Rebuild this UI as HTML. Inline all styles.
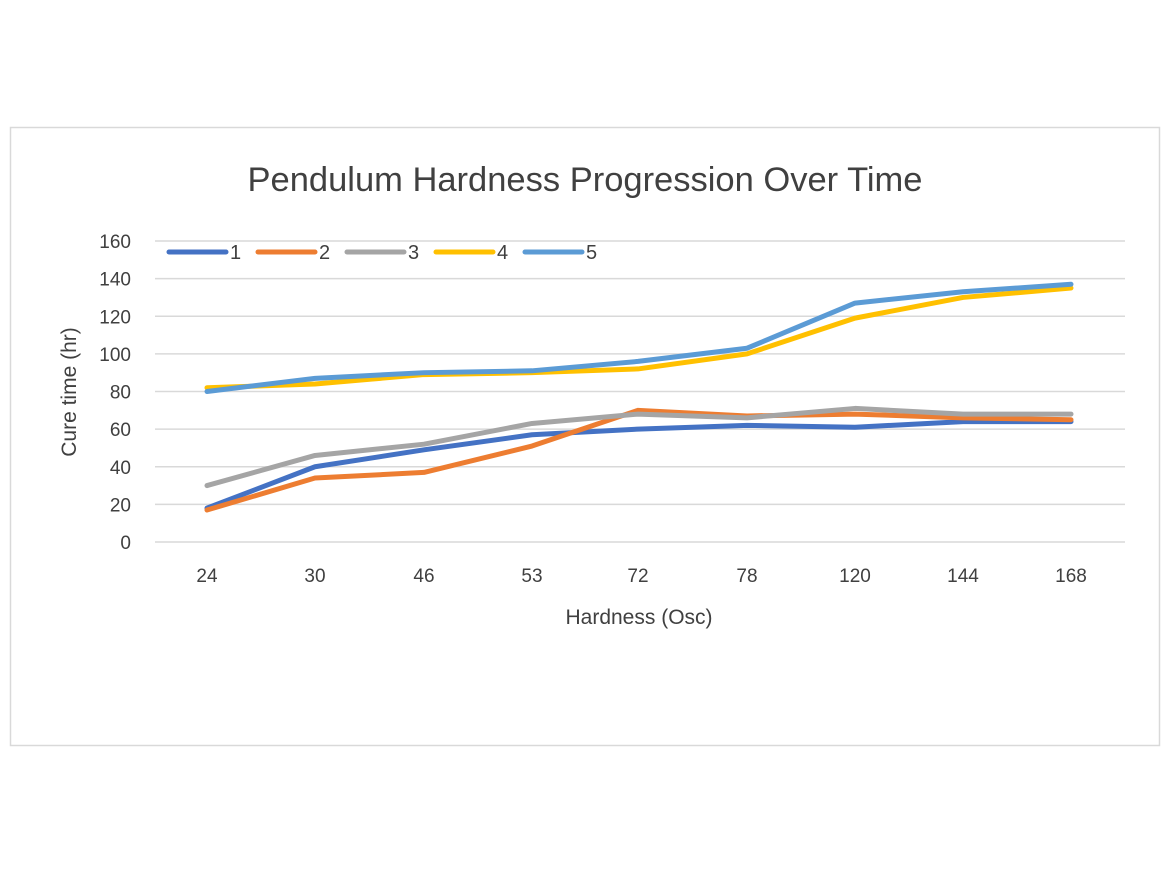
<!DOCTYPE html>
<html><head><meta charset="utf-8"><style>
body{margin:0;background:#fff;}
svg{display:block;font-family:"Liberation Sans",sans-serif;}
</style></head><body>
<svg id="s" width="1170" height="878" xmlns="http://www.w3.org/2000/svg">
<rect x="10.5" y="127.5" width="1149" height="618" fill="#fff" stroke="#d9d9d9" stroke-width="1.5"/>
<text x="585" y="191" text-anchor="middle" font-size="34.5" fill="#404040">Pendulum Hardness Progression Over Time</text>
<text transform="translate(76,392) rotate(-90)" text-anchor="middle" font-size="21" fill="#404040">Cure time (hr)</text>
<text x="639" y="624" text-anchor="middle" font-size="21" fill="#404040">Hardness (Osc)</text>
</svg>
<script>
var s=document.getElementById('s'),NS='http://www.w3.org/2000/svg';
function el(t,a,txt){var e=document.createElementNS(NS,t);for(var k in a)e.setAttribute(k,a[k]);if(txt!=null)e.textContent=txt;s.appendChild(e);return e;}
function Y(v){return 542-v*1.88125;}
for(var v=0;v<=160;v+=20){el('line',{x1:155,x2:1125,y1:Y(v),y2:Y(v),stroke:'#d9d9d9','stroke-width':1.5});el('text',{x:131,y:Y(v)+7,'text-anchor':'end','font-size':19,fill:'#404040'},v);}
var xs=[207,315,424,532,638,747,855,963,1071],lab=[24,30,46,53,72,78,120,144,168];
xs.forEach(function(x,i){el('text',{x:x,y:582,'text-anchor':'middle','font-size':19,fill:'#404040'},lab[i]);});
var data=[
['#4472c4',[18,40,49,57,60,62,61,64,64]],
['#ed7d31',[17,34,37,51,70,67,68,66,65]],
['#a5a5a5',[30,46,52,63,68,66,71,68,68]],
['#ffc000',[82,84,89,90,92,100,119,130,135]],
['#5b9bd5',[80,87,90,91,96,103,127,133,137]]];
var lx=[169,258,347,436,525];
data.forEach(function(d,i){
 el('polyline',{points:d[1].map(function(v,j){return xs[j]+','+Y(v);}).join(' '),fill:'none',stroke:d[0],'stroke-width':5,'stroke-linejoin':'round','stroke-linecap':'round'});
 el('line',{x1:lx[i],x2:lx[i]+57,y1:252,y2:252,stroke:d[0],'stroke-width':5,'stroke-linecap':'round'});
 el('text',{x:lx[i]+61,y:259,'font-size':20,fill:'#404040'},i+1);
});
</script>
</body></html>
